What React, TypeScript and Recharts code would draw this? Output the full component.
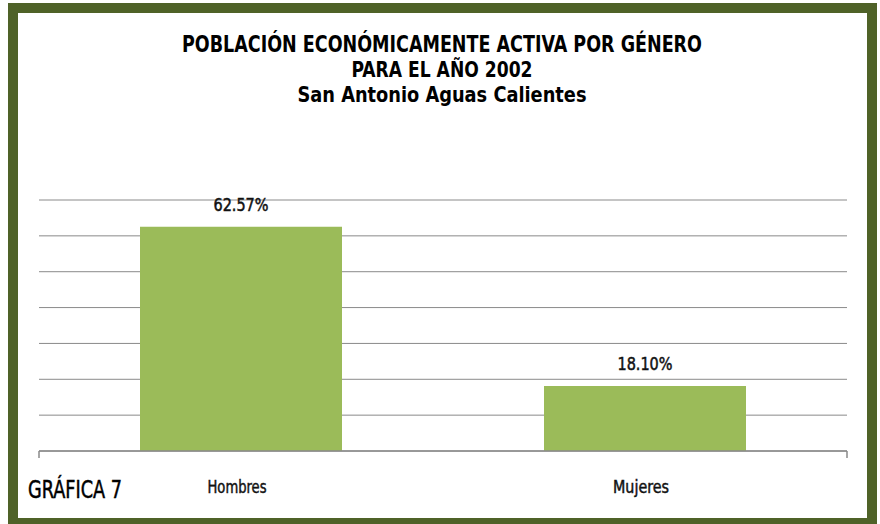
import React from 'react';
import { BarChart, Bar, XAxis, YAxis, CartesianGrid, LabelList } from 'recharts';

const categories = ['Hombres', 'Mujeres'];
const values = [62.57, 18.1];
const valueLabels = ['62.57%', '18.10%'];
const yTicks = [0, 10, 20, 30, 40, 50, 60, 70];
const edgeTicks = [0, 1, 2];
const titleLines = ['POBLACIÓN ECONÓMICAMENTE ACTIVA POR GÉNERO', 'PARA EL AÑO 2002'];
const subtitle = 'San Antonio Aguas Calientes';
const figureLabel = 'GRÁFICA 7';

const data = categories.map((c, i) => ({ name: c, value: values[i], label: valueLabels[i] }));

const FONT = '"DejaVu Sans Condensed", "Liberation Sans Narrow", sans-serif';
const GRID = '#8a8a8a';

const catWidths: Record<string, number> = { Hombres: 59, Mujeres: 56 };

const CatTick = (props: any) => {
  const { x, y, payload } = props;
  return (
    <text
      x={x - 4}
      y={y + 32}
      textAnchor="middle"
      fontFamily={FONT}
      fontSize={17}
      fill="#111"
      stroke="#111"
      strokeWidth={0.45}
      textLength={catWidths[payload.value]}
      lengthAdjust="spacingAndGlyphs"
    >
      {payload.value}
    </text>
  );
};

const EmptyTick = () => <g />;

const ValueLabel = (props: any) => {
  const { x, y, width, value } = props;
  return (
    <text
      x={x + width / 2}
      y={y - 16}
      textAnchor="middle"
      fontFamily={FONT}
      fontSize={18}
      fill="#111"
      stroke="#111"
      strokeWidth={0.5}
      textLength={55}
      lengthAdjust="spacingAndGlyphs"
    >
      {value}
    </text>
  );
};

export default function App() {
  return (
    <div style={{ position: 'absolute', left: 0, top: 0, width: 880, height: 524, overflow: 'hidden', background: '#fff' }}>
      <div
        style={{
          position: 'absolute',
          left: 8,
          top: 3,
          width: 869,
          height: 525,
          border: '10px solid #4F6228',
          boxSizing: 'border-box',
          background: '#fff',
        }}
      />
      <div style={{ position: 'absolute', left: 0, top: 0 }}>
        <BarChart width={880} height={524} data={data} margin={{ top: 200, right: 33, bottom: 33, left: 39 }} barCategoryGap="25%">
          <CartesianGrid vertical={false} stroke={GRID} strokeWidth={1} xAxisId="b" />
          <YAxis hide type="number" domain={[0, 70]} ticks={yTicks} />
          <XAxis xAxisId="b" dataKey="name" axisLine={false} tickLine={false} tickSize={0} tickMargin={0} height={30} tick={<CatTick />} />
          <XAxis
            xAxisId="a"
            type="number"
            domain={[0, 2]}
            ticks={edgeTicks}
            tick={<EmptyTick />}
            tickSize={7}
            height={10}
            axisLine={{ stroke: GRID, strokeWidth: 1.5 }}
            tickLine={{ stroke: GRID, strokeWidth: 1.5 }}
          />
          <Bar xAxisId="b" dataKey="value" fill="#9BBB59" isAnimationActive={false}>
            <LabelList dataKey="label" content={<ValueLabel />} />
          </Bar>
        </BarChart>
      </div>
      <svg width={880} height={524} style={{ position: 'absolute', left: 0, top: 0, pointerEvents: 'none' }}>
        <text x={442} y={52} textAnchor="middle" fontFamily={FONT} fontWeight="bold" fontSize={23} fill="#000" textLength={520} lengthAdjust="spacingAndGlyphs">
          {titleLines[0]}
        </text>
        <text x={442} y={77} textAnchor="middle" fontFamily={FONT} fontWeight="bold" fontSize={22} fill="#000" textLength={181} lengthAdjust="spacingAndGlyphs">
          {titleLines[1]}
        </text>
        <text x={442} y={102} textAnchor="middle" fontFamily={FONT} fontWeight="bold" fontSize={21} fill="#000" textLength={289} lengthAdjust="spacingAndGlyphs">
          {subtitle}
        </text>
        <text x={28} y={498} fontFamily={FONT} fontSize={25} fill="#000" stroke="#000" strokeWidth={0.5} textLength={94} lengthAdjust="spacingAndGlyphs">
          {figureLabel}
        </text>
      </svg>
    </div>
  );
}
